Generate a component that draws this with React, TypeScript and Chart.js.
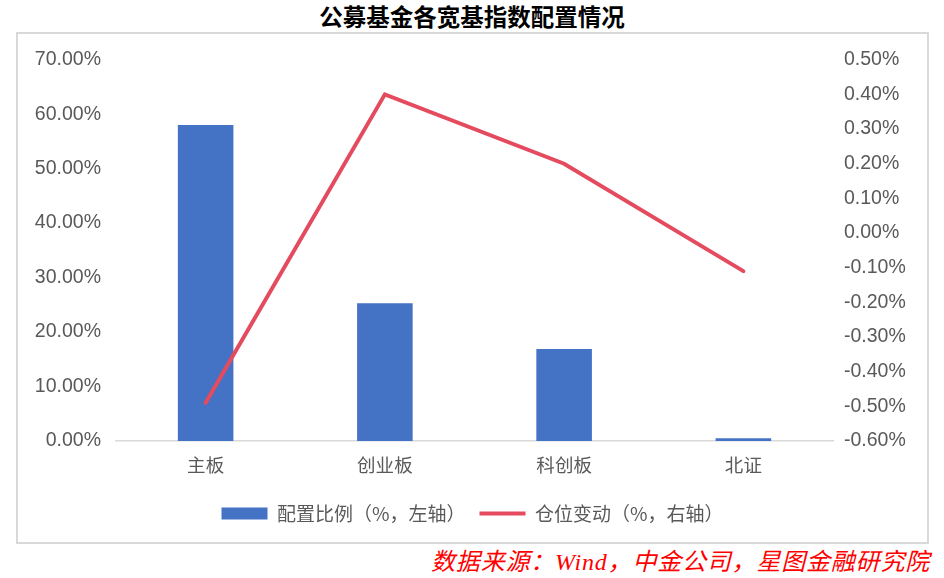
import { useEffect, useRef } from "react";
import Chart from "chart.js/auto";

const categories = ["主板", "创业板", "科创板", "北证"];
const allocation = [58.0, 25.3, 16.9, 0.5]; // 配置比例, %
const positionChange = [-0.49, 0.4, 0.2, -0.11]; // 仓位变动, %

const leftTicks = [0, 10, 20, 30, 40, 50, 60, 70];
const rightTicks = [-0.6, -0.5, -0.4, -0.3, -0.2, -0.1, 0, 0.1, 0.2, 0.3, 0.4, 0.5];

const CJK = '"Noto Sans CJK SC", "Noto Sans", sans-serif';
const LATIN = '"Liberation Sans", Arial, sans-serif';

const App: React.FC = () => {
  const chartRef = useRef<HTMLCanvasElement | null>(null);
  const chartInstance = useRef<Chart | null>(null);

  useEffect(() => {
    document.body.style.margin = "0";
    if (!chartRef.current) return;
    if (chartInstance.current) chartInstance.current.destroy();

    chartInstance.current = new Chart(chartRef.current, {
      type: "bar",
      data: {
        labels: categories,
        datasets: [
          {
            type: "bar",
            label: "配置比例（%，左轴）",
            data: allocation,
            backgroundColor: "#4472C4",
            borderWidth: 0,
            yAxisID: "y",
            barPercentage: 0.31,
            categoryPercentage: 1,
            pointStyle: "rect",
            order: 1,
          },
          {
            type: "line",
            label: "仓位变动（%，右轴）",
            data: positionChange,
            borderColor: "#E54B5E",
            backgroundColor: "#E54B5E",
            borderWidth: 4,
            borderCapStyle: "round",
            pointRadius: 0,
            pointHoverRadius: 0,
            pointStyle: "line",
            tension: 0,
            yAxisID: "y1",
            order: 0,
          },
        ],
      },
      options: {
        animation: false,
        responsive: true,
        maintainAspectRatio: false,
        layout: { padding: { top: 14, bottom: 10, left: 0, right: 0 } },
        plugins: {
          title: { display: false },
          tooltip: { enabled: false },
          legend: {
            position: "bottom",
            labels: {
              usePointStyle: true,
              pointStyleWidth: 46,
              boxHeight: 12,
              padding: 14,
              color: "#595959",
              font: { family: CJK, size: 19 },
              sort: (a, b) => (a.datasetIndex ?? 0) - (b.datasetIndex ?? 0),
            },
          },
        },
        scales: {
          x: {
            grid: { display: false, drawTicks: false },
            border: { display: true, color: "#d9d9d9", width: 1.5 },
            ticks: { color: "#595959", font: { family: CJK, size: 18.5 }, padding: 13 },
            afterFit: (scale) => {
              scale.height = 49;
            },
          },
          y: {
            position: "left",
            min: leftTicks[0],
            max: leftTicks[leftTicks.length - 1],
            grid: { display: false, drawTicks: false },
            border: { display: false },
            afterBuildTicks: (scale) => {
              scale.ticks = leftTicks.map((v) => ({ value: v }));
            },
            afterFit: (scale) => {
              scale.width = 99;
            },
            ticks: {
              color: "#595959",
              font: { family: LATIN, size: 19.5 },
              padding: 15,
              callback: (v) => Number(v).toFixed(2) + "%",
            },
          },
          y1: {
            position: "right",
            min: rightTicks[0],
            max: rightTicks[rightTicks.length - 1],
            grid: { display: false, drawTicks: false },
            border: { display: false },
            afterBuildTicks: (scale) => {
              scale.ticks = rightTicks.map((v) => ({ value: v }));
            },
            afterFit: (scale) => {
              scale.width = 95;
            },
            ticks: {
              color: "#595959",
              font: { family: LATIN, size: 19.5 },
              padding: 11,
              callback: (v) => Number(v).toFixed(2) + "%",
            },
          },
        },
      },
    });

    return () => {
      if (chartInstance.current) {
        chartInstance.current.destroy();
        chartInstance.current = null;
      }
    };
  }, []);

  return (
    <div style={{ position: "relative", width: 944, height: 578, background: "#fff", overflow: "hidden" }}>
      <div
        style={{
          position: "absolute",
          left: 0,
          top: 2,
          width: 944,
          textAlign: "center",
          fontFamily: CJK,
          fontWeight: "bold",
          fontSize: 23.5,
          lineHeight: "28px",
          color: "#000",
        }}
      >
        公募基金各宽基指数配置情况
      </div>
      <div
        style={{
          position: "absolute",
          left: 16,
          top: 32,
          width: 913,
          height: 512,
          border: "2px solid #d9d9d9",
          boxSizing: "border-box",
        }}
      />
      <div style={{ position: "absolute", left: 17, top: 33, width: 911, height: 510 }}>
        <canvas ref={chartRef}></canvas>
      </div>
      <div
        style={{
          position: "absolute",
          right: 14,
          top: 547,
          fontFamily: '"Liberation Serif", "Noto Sans CJK SC", serif',
          fontStyle: "italic",
          fontSize: 24,
          letterSpacing: 0.8,
          lineHeight: "30px",
          color: "#FF0000",
          whiteSpace: "nowrap",
        }}
      >
        数据来源：Wind，中金公司，星图金融研究院
      </div>
    </div>
  );
};

export default App;
